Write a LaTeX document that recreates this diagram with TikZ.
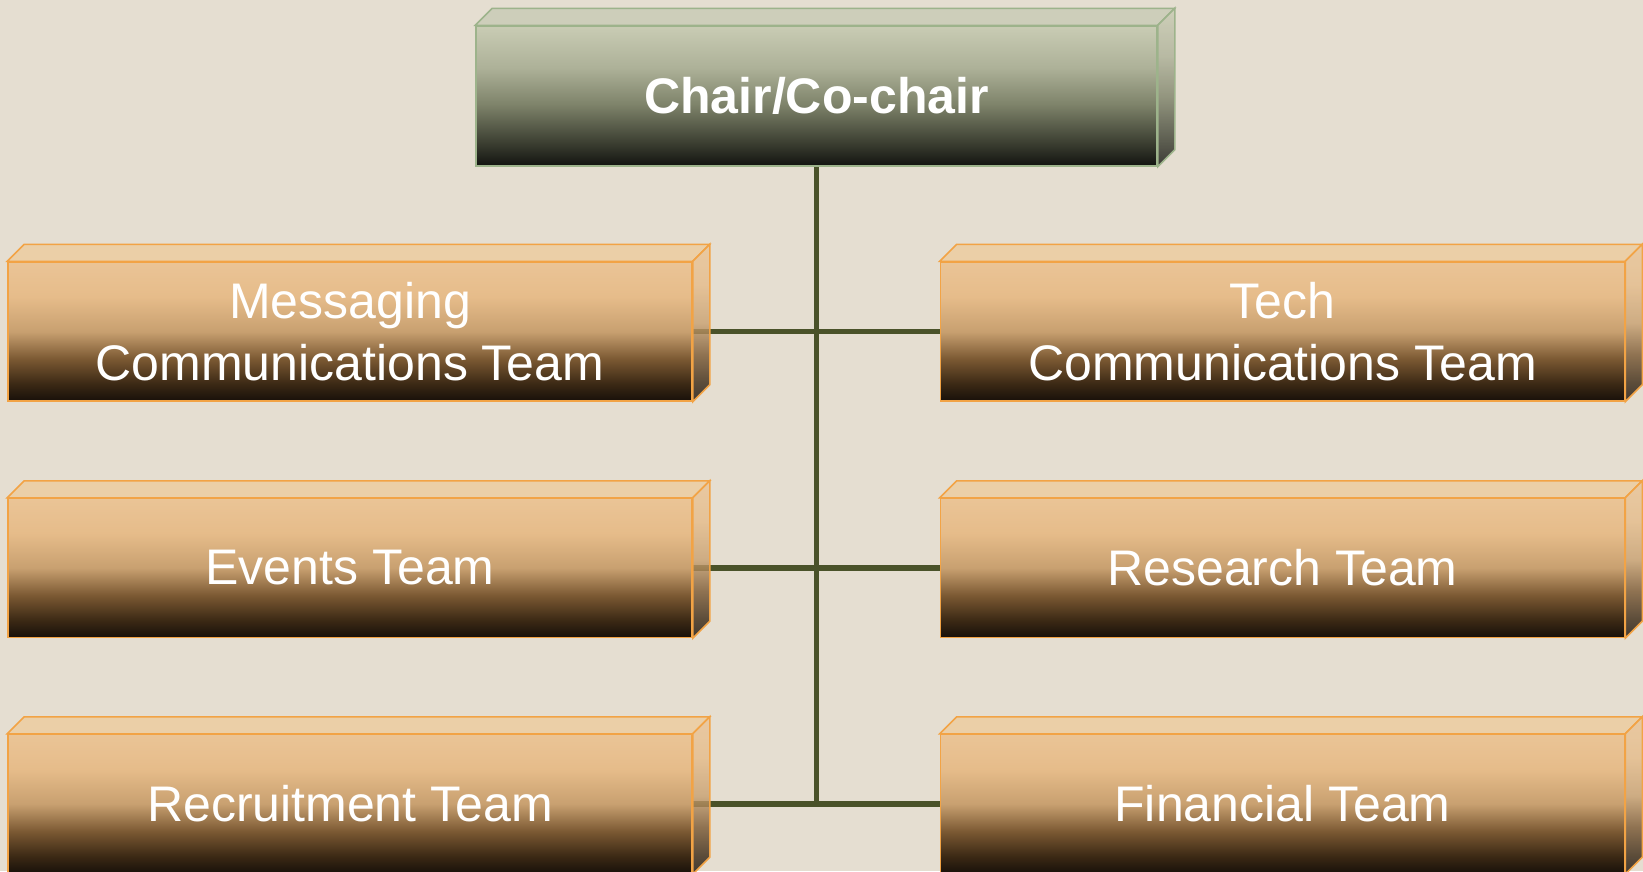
\documentclass[tikz,border=0pt]{standalone}
\usepackage{fontspec}
\setmainfont{Liberation Sans}
\usetikzlibrary{calc, backgrounds}

\definecolor{paper}{HTML}{E5DED1}
\definecolor{linkgreen}{HTML}{4A5229}
\definecolor{orangeedge}{HTML}{F2A345}
\definecolor{greenedge}{HTML}{9DB38B}
\definecolor{orangetop}{HTML}{EDCDA0}
\definecolor{greentop}{HTML}{C9CCB6}

\definecolor{oA}{HTML}{18100A}
\definecolor{oB}{HTML}{3A2814}
\definecolor{oC}{HTML}{7A5832}
\definecolor{oD}{HTML}{C8A070}
\definecolor{oE}{HTML}{E6BC8A}
\definecolor{oF}{HTML}{EAC496}

\definecolor{gA}{HTML}{121310}
\definecolor{gB}{HTML}{3A3D30}
\definecolor{gC}{HTML}{7E836A}
\definecolor{gD}{HTML}{ADB198}
\definecolor{gE}{HTML}{C9CCB4}

\pgfdeclareverticalshading{orangeface}{100bp}{color(0bp)=(oA); color(25bp)=(oA);
  color(31bp)=(oB); color(40bp)=(oC); color(50bp)=(oD); color(62.5bp)=(oE);
  color(75bp)=(oF); color(100bp)=(oF)}
\pgfdeclareverticalshading{greenface}{100bp}{color(0bp)=(gA); color(25bp)=(gA);
  color(33bp)=(gB); color(47bp)=(gC); color(60bp)=(gD);
  color(75bp)=(gE); color(100bp)=(gE)}

\tikzset{
  face/.style={inner sep=0pt, text=white, align=center, line width=1.5pt},
  teambox/.style={face, draw=orangeedge, shading=orangeface,
    minimum width=684pt, minimum height=139pt, font=\fontsize{50}{62}\selectfont},
  chairbox/.style={face, draw=greenedge, shading=greenface,
    minimum width=681pt, minimum height=140pt, font=\fontsize{50}{62}\selectfont\bfseries},
  link/.style={draw=linkgreen, line width=5.5pt}
}

% top and side faces of a box: node, top colour, side shading, edge colour
\newcommand{\prism}[4]{%
  \draw[draw=#4, line width=1.5pt, fill=#2, fill opacity=0.85]
    (#1.north west) -- ++(17,-17) -- ($(#1.north east)+(17,-17)$) -- (#1.north east) -- cycle;
  \draw[draw=#4, line width=1.5pt, shading=#3, fill opacity=0.8]
    (#1.north east) -- ++(17,-17) -- ($(#1.south east)+(17,-17)$) -- (#1.south east) -- cycle;
}

\begin{document}
\begin{tikzpicture}[x=1pt, y=-1pt]
  \useasboundingbox (0,0) rectangle (1643,871);

  \node[chairbox] (chair) at (816.5,96) {Chair/Co-chair};

  \node[teambox] (msg) at (350,331.5) {Messaging\\Communications Team};
  \node[teambox] (tech) at (1282.5,331.5) {Tech\\Communications Team};
  \node[teambox] (events) at (350,568) {Events Team};
  \node[teambox] (research) at (1282.5,568) {Research Team};
  \node[teambox] (recruit) at (350,804) {Recruitment Team};
  \node[teambox] (finance) at (1282.5,804) {Financial Team};

  \prism{chair}{greentop}{greenface}{greenedge}
  \foreach \n in {msg, tech, events, research, recruit, finance}
  {
    \prism{\n}{orangetop}{orangeface}{orangeedge}
  }

  \begin{scope}[on background layer]
    \fill[paper] (0,0) rectangle (1643,871);
    \draw[link] (chair.south) -- (chair.south |- recruit.east);
    \foreach \l/\r in {msg/tech, events/research, recruit/finance}
    {
      \draw[link] (\l.east) -- (\r.west);
    }
  \end{scope}
\end{tikzpicture}
\end{document}
